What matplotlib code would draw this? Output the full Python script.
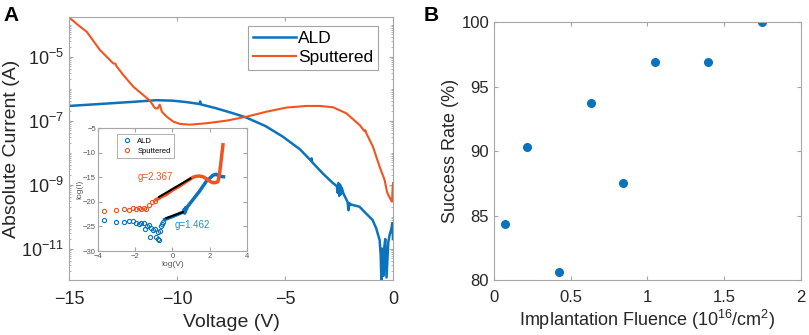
import numpy as np
import matplotlib
matplotlib.use('Agg')
import matplotlib.pyplot as plt
from matplotlib.ticker import LogLocator, NullFormatter

plt.rcParams['font.family'] = ['Liberation Sans', 'DejaVu Sans']
plt.rcParams['mathtext.fontset'] = 'custom'
plt.rcParams['mathtext.rm'] = 'Liberation Sans'
plt.rcParams['mathtext.it'] = 'Liberation Sans'

AZUL = '#0B72BE'
LARANJA = '#F2541F'
CINZA = '#262626'
BORDA = '#A6A6A6'

# painel A: curvas I-V (log10 da corrente)
ald_v = [-15, -13.6, -12.0, -10.95, -10.2, -9.55, -8.95, -8.93, -8.9, -8.2, -7.4, -6.8,
         -5.9, -5.1, -4.3, -3.8, -3.77, -3.74, -3.25, -2.8, -2.6, -2.57, -2.53, -2.49,
         -2.45, -2.41, -2.37, -2.3, -2.1, -2.06, -2.02, -1.95, -1.55, -1.25, -0.95,
         -0.78, -0.62, -0.57, -0.54, -0.51, -0.47, -0.44, -0.41, -0.36, -0.3, -0.22,
         -0.15, -0.08, -0.03, 0.0]
ald_logi = [-6.54, -6.48, -6.41, -6.36, -6.375, -6.42, -6.48, -6.40, -6.49, -6.61, -6.77, -6.90,
            -7.17, -7.50, -7.90, -8.25, -8.18, -8.30, -8.65, -8.94, -9.05, -9.25, -8.95, -9.35,
            -9.0, -9.3, -9.1, -9.27, -9.55, -9.8, -9.58, -9.62, -9.69, -9.9, -10.1,
            -10.36, -10.73, -11.2, -11.98, -11.0, -11.5, -11.85, -11.0, -10.7, -11.9, -10.8,
            -10.55, -10.4, -10.2, -10.7]

sput_v = [-15, -14.6, -14.18, -13.57, -12.95, -12.85, -12.8, -12.49, -12.02, -11.56, -11.25,
          -11.02, -10.9, -10.8, -10.7, -10.48, -10.17, -9.87, -9.4, -8.63, -7.71, -6.78,
          -5.86, -4.93, -4.01, -3.39, -2.78, -2.16, -1.54, -1.32, -1.28, -1.23, -0.93,
          -0.62, -0.39, -0.28, -0.22, -0.12, -0.05, 0.0]
sput_logi = [-3.77, -4.0, -4.22, -4.79, -5.21, -5.22, -5.30, -5.57, -5.94, -6.2, -6.38,
             -6.61, -6.62, -6.50, -6.72, -6.875, -7.03, -7.10, -7.125, -7.08, -7.0, -6.875,
             -6.72, -6.59, -6.54, -6.54, -6.58, -6.77, -7.14, -7.33, -7.30, -7.4, -7.81,
             -8.44, -8.85, -9.22, -9.32, -9.45, -9.53, -8.95]

# inset: log(I) x log(V)
ald_pts_lv = [-3.7, -3.02, -2.6, -2.34, -2.12, -1.94, -1.8, -1.68, -1.55, -1.45, -1.35, -1.25,
              -1.15, -1.05, -0.95, -1.19, -0.87, -0.78, -0.72, -0.8, -0.65, -0.6, -0.55, -0.5]
ald_pts_li = [-23.6, -24.1, -24.1, -23.9, -23.9, -24.3, -24.5, -24.3, -24.4, -25.5, -25.0, -24.7,
              -25.3, -25.8, -25.5, -27.1, -27.1, -27.6, -27.7, -26.2, -25.9, -25.0, -24.6, -24.2]
ald_lin_lv = [-0.42, 0.03, 0.56, 0.62, 0.66, 0.7, 0.74, 0.8, 1.1, 1.46, 1.82, 2.0, 2.17, 2.35, 2.53, 2.74]
ald_lin_li = [-23.6, -22.95, -22.1, -21.6, -22.3, -21.2, -21.6, -21.0, -19.55, -17.8, -15.8, -15.2,
              -14.6, -14.4, -14.8, -14.9]
ald_fit_lv = [-0.33, 0.56]
ald_fit_li = [-23.3, -22.1]

sput_pts_lv = [-3.7, -3.02, -2.6, -2.34, -2.12, -1.94, -1.8, -1.68, -1.55, -1.4, -1.25, -1.1, -0.95]
sput_pts_li = [-21.9, -21.6, -21.45, -21.7, -21.3, -21.5, -21.35, -21.5, -21.3, -21.5, -20.7, -20.1, -19.8]
sput_lin_lv = [-0.87, -0.6, -0.33, 0.0, 0.38, 0.65, 0.92, 1.1, 1.28, 1.45, 1.64, 1.82, 2.0, 2.15,
               2.3, 2.44, 2.52, 2.6, 2.71]
sput_lin_li = [-19.55, -19.0, -18.5, -17.6, -16.8, -16.1, -15.45, -15.0, -14.8, -14.75, -14.9, -15.3,
               -15.8, -16.1, -16.1, -15.9, -14.5, -12.0, -8.4]
sput_fit_lv = [-0.72, 0.96]
sput_fit_li = [-19.0, -15.25]

# painel B: taxa de sucesso
fluencia = [0.072, 0.213, 0.421, 0.63, 0.838, 1.051, 1.394, 1.746]
sucesso = [84.375, 90.32, 80.65, 93.75, 87.5, 96.875, 96.875, 100.0]


def estilo(ax, tam):
    for s in ax.spines.values():
        s.set_color(BORDA)
        s.set_linewidth(0.8)
    ax.tick_params(which='both', direction='in', colors=BORDA, labelcolor=CINZA,
                   labelsize=tam, top=True, right=True)
    ax.tick_params(which='major', length=3)
    ax.tick_params(which='minor', length=1.5)


fig = plt.figure(figsize=(8.09, 3.35), dpi=100)

# ---- painel A
axA = fig.add_axes([0.0853, 0.1642, 0.4005, 0.785])
axA.plot(ald_v, 10 ** np.array(ald_logi), color=AZUL, lw=1.8, label='ALD')
axA.plot(sput_v, 10 ** np.array(sput_logi), color=LARANJA, lw=1.5, label='Sputtered')
axA.set_yscale('log')
axA.set_xlim(-15, 0)
axA.set_ylim(10 ** -11.98, 10 ** -3.76)
axA.set_xticks([-15, -10, -5, 0])
axA.set_yticks([1e-11, 1e-9, 1e-7, 1e-5])
axA.yaxis.set_minor_locator(LogLocator(base=10, subs=np.arange(1, 10), numticks=30))
axA.yaxis.set_minor_formatter(NullFormatter())
estilo(axA, 13)
axA.tick_params(axis='x', pad=8)
axA.set_xlabel('Voltage (V)', fontsize=14, color=CINZA, labelpad=4)
axA.set_ylabel('Absolute Current (A)', fontsize=14, color=CINZA, labelpad=1)
leg = axA.legend(loc='upper right', fontsize=12.5, frameon=True, fancybox=False,
                 handlelength=2.5, handletextpad=0.1, borderpad=0.3, labelspacing=0.2,
                 borderaxespad=0, bbox_to_anchor=(0.955, 0.966))
leg.get_frame().set_edgecolor('#8C8C8C')
leg.get_frame().set_linewidth(0.8)
fig.text(0.004, 0.955, 'A', fontsize=15, fontweight='bold', va='center')

# inset
axI = fig.add_axes([0.1211, 0.2507, 0.1842, 0.367])
axI.plot(ald_pts_lv, ald_pts_li, 'o', mfc='none', mec=AZUL, ms=3, mew=0.8, label='ALD')
axI.plot(sput_pts_lv, sput_pts_li, 'o', mfc='none', mec=LARANJA, ms=3, mew=0.8, label='Sputtered')
axI.plot(ald_lin_lv, ald_lin_li, color=AZUL, lw=2.5)
axI.plot(sput_lin_lv, sput_lin_li, color=LARANJA, lw=2.5)
axI.plot(ald_fit_lv, ald_fit_li, color='black', lw=1.5)
axI.plot(sput_fit_lv, sput_fit_li, color='black', lw=1.5)
axI.text(-0.9, -15.0, 'g=2.367', color=LARANJA, fontsize=7, ha='center', va='center')
axI.text(1.08, -24.8, 'g=1.462', color='#1A8FD0', fontsize=7, ha='center', va='center')
axI.set_xlim(-4, 4)
axI.set_ylim(-30, -5)
axI.set_xticks([-4, -2, 0, 2, 4])
axI.set_yticks([-30, -25, -20, -15, -10, -5])
estilo(axI, 5.5)
axI.tick_params(labelcolor='#555555', pad=1.5)
axI.set_xlabel('log(V)', fontsize=6, color='#555555', labelpad=1)
axI.set_ylabel('log(I)', fontsize=6, color='#555555', labelpad=0)
legI = axI.legend(loc='upper left', fontsize=5.5, frameon=True, fancybox=False,
                  handletextpad=0.3, borderpad=0.4, labelspacing=0.4,
                  bbox_to_anchor=(0.1, 0.98))
legI.get_frame().set_edgecolor('#8C8C8C')
legI.get_frame().set_linewidth(0.6)

# ---- painel B
axB = fig.add_axes([0.6106, 0.1642, 0.3795, 0.770])
axB.plot(fluencia, sucesso, 'o', color=AZUL, ms=5.5)
axB.set_xlim(0, 2)
axB.set_ylim(80, 100)
axB.set_xticks([0, 0.5, 1, 1.5, 2])
axB.set_xticklabels(['0', '0.5', '1', '1.5', '2'])
axB.set_yticks([80, 85, 90, 95, 100])
estilo(axB, 12)
axB.tick_params(axis='x', pad=7)
axB.set_xlabel(r'Implantation Fluence (10$^{16}$/cm$^{2}$)', fontsize=13, color=CINZA, labelpad=2)
axB.set_ylabel('Success Rate (%)', fontsize=13, color=CINZA, labelpad=2)
fig.text(0.524, 0.955, 'B', fontsize=15, fontweight='bold', va='center')

fig.savefig('out.png', dpi=100)
